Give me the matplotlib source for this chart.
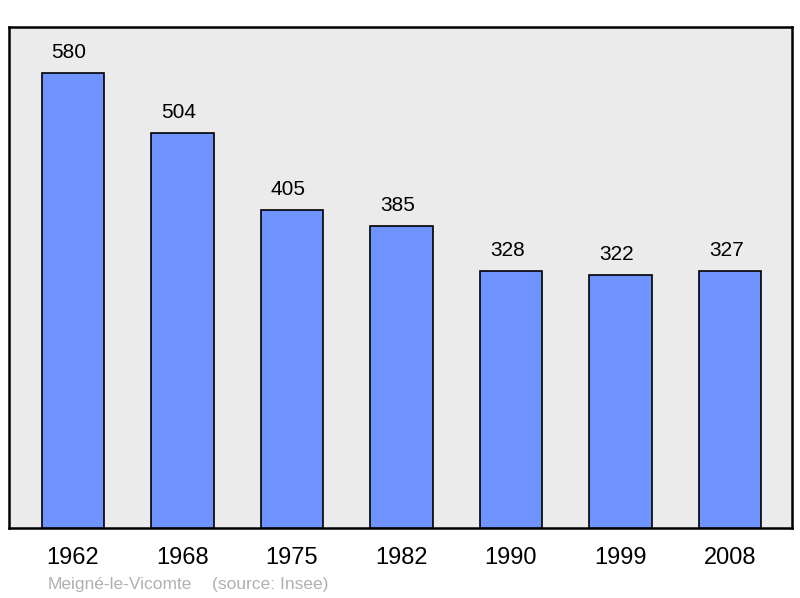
import matplotlib.pyplot as plt

plt.rcParams['font.family'] = ['Liberation Sans', 'DejaVu Sans']

years = ['1962', '1968', '1975', '1982', '1990', '1999', '2008']
population = [580, 504, 405, 385, 328, 322, 327]

fig = plt.figure(figsize=(8, 5.98), dpi=100)
ax = fig.add_axes([9 / 800, 70 / 598, 783 / 800, 501 / 598])
ax.set_facecolor('#ebebeb')

x = list(range(len(years)))
ax.bar(x, population, width=0.57, color='#7094ff', edgecolor='black', linewidth=1.2, zorder=3)
for xi, v in zip(x, population):
    ax.text(xi - 0.035, v + 14, str(v), ha='center', va='bottom', fontsize=15)

ax.set_xlim(-0.584, 6.566)
ax.set_ylim(0, 638.6)
ax.set_xticks(x)
ax.set_xticklabels(years, fontsize=17)
ax.tick_params(axis='x', length=0, pad=14)
ax.set_yticks([])
for s in ax.spines.values():
    s.set_linewidth(1.8)

fig.text(48 / 800, 1 - 584 / 598, 'Meigné-le-Vicomte', fontsize=12.5, color='#b0b0b0', va='center')
fig.text(212 / 800, 1 - 584 / 598, '(source: Insee)', fontsize=12.5, color='#b0b0b0', va='center')

fig.savefig('out.png', dpi=100)
